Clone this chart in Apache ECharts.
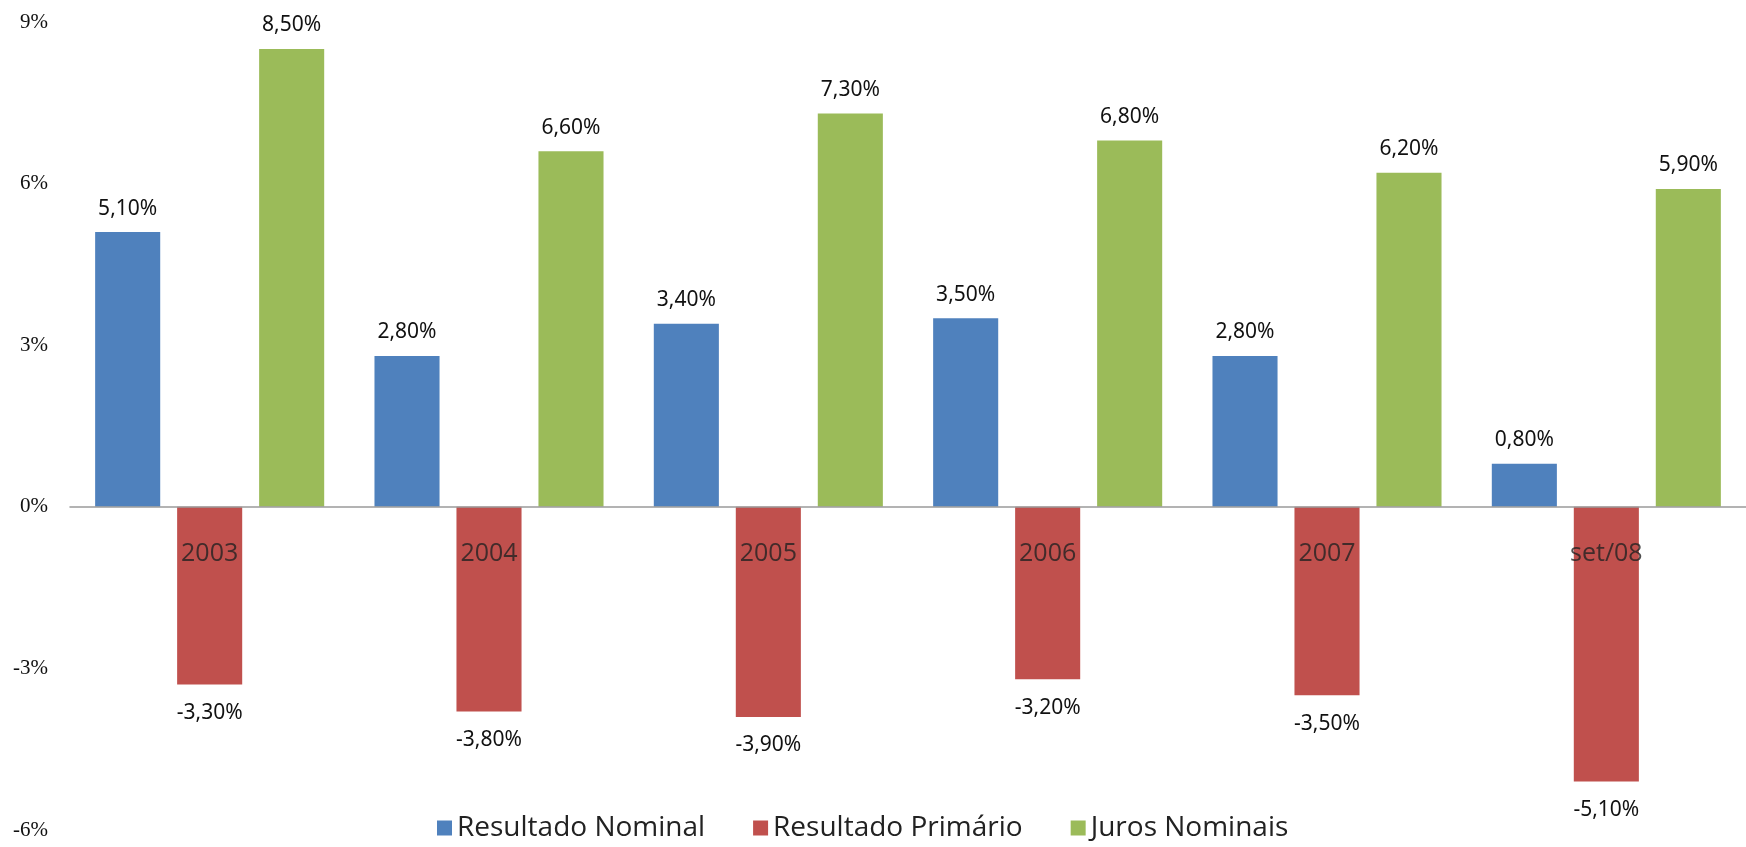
<!DOCTYPE html>
<html>
<head>
<meta charset="utf-8">
<script src="https://cdn.jsdelivr.net/npm/echarts@6/dist/echarts.min.js"></script>
<style>html,body{margin:0;padding:0;background:#fff}#c{width:1746px;height:847px}</style>
</head>
<body>
<div id="c"></div>
<script>
const categories = ['2003', '2004', '2005', '2006', '2007', 'set/08'];
const resultadoNominal = [5.1, 2.8, 3.4, 3.5, 2.8, 0.8];
const resultadoPrimario = [-3.3, -3.8, -3.9, -3.2, -3.5, -5.1];
const jurosNominais = [8.5, 6.6, 7.3, 6.8, 6.2, 5.9];
const seriesNames = ['Resultado Nominal', 'Resultado Primário', 'Juros Nominais'];
const yTicks = { min: -6, max: 9, interval: 3 };

const fmt = v => v.toFixed(2).replace('.', ',') + '%';
const labelStyle = {
  show: true,
  position: 'top',
  distance: 13,
  fontFamily: 'Noto Sans',
  fontSize: 21,
  color: '#111',
  formatter: p => fmt(p.value)
};

const chart = echarts.init(document.getElementById('c'));
chart.setOption({
  animation: false,
  backgroundColor: '#fff',
  grid: { left: 70, right: 0, top: 22, bottom: 17, containLabel: false, outerBoundsMode: 'none' },
  legend: {
    bottom: 0,
    left: 432,
    itemWidth: 15,
    itemHeight: 15,
    itemGap: 48,
    icon: 'rect',
    textStyle: { fontFamily: 'Open Sans', fontSize: 28, color: '#222' },
    data: seriesNames
  },
  xAxis: {
    type: 'category',
    data: categories,
    axisLine: { onZero: true, lineStyle: { color: '#9a9a9a', width: 1.5 } },
    axisTick: { show: false },
    axisLabel: { show: false },
    z: 10
  },
  yAxis: {
    type: 'value',
    min: yTicks.min,
    max: yTicks.max,
    interval: yTicks.interval,
    splitLine: { show: false },
    axisLine: { show: false },
    axisTick: { show: false },
    axisLabel: { fontFamily: 'Liberation Serif', fontSize: 21, color: '#111', margin: 22, formatter: '{value}%' }
  },
  series: [
    { name: seriesNames[0], type: 'bar', data: resultadoNominal, itemStyle: { color: '#4F81BD' },
      barGap: '26%', barCategoryGap: '18%', label: labelStyle },
    { name: seriesNames[1], type: 'bar', data: resultadoPrimario, itemStyle: { color: '#C0504D' },
      label: Object.assign({}, labelStyle, { position: 'bottom', distance: 18 }) },
    { name: seriesNames[2], type: 'bar', data: jurosNominais, itemStyle: { color: '#9BBB59' }, label: labelStyle },
    { name: 'categoryLabels', type: 'scatter', data: categories.map(c => [c, 0]), symbolSize: 0,
      silent: true, z: 20,
      label: { show: true, position: 'bottom', distance: 35, fontFamily: 'Open Sans', fontSize: 25, color: '#222',
        formatter: p => p.value[0] } }
  ]
});
</script>
</body>
</html>
